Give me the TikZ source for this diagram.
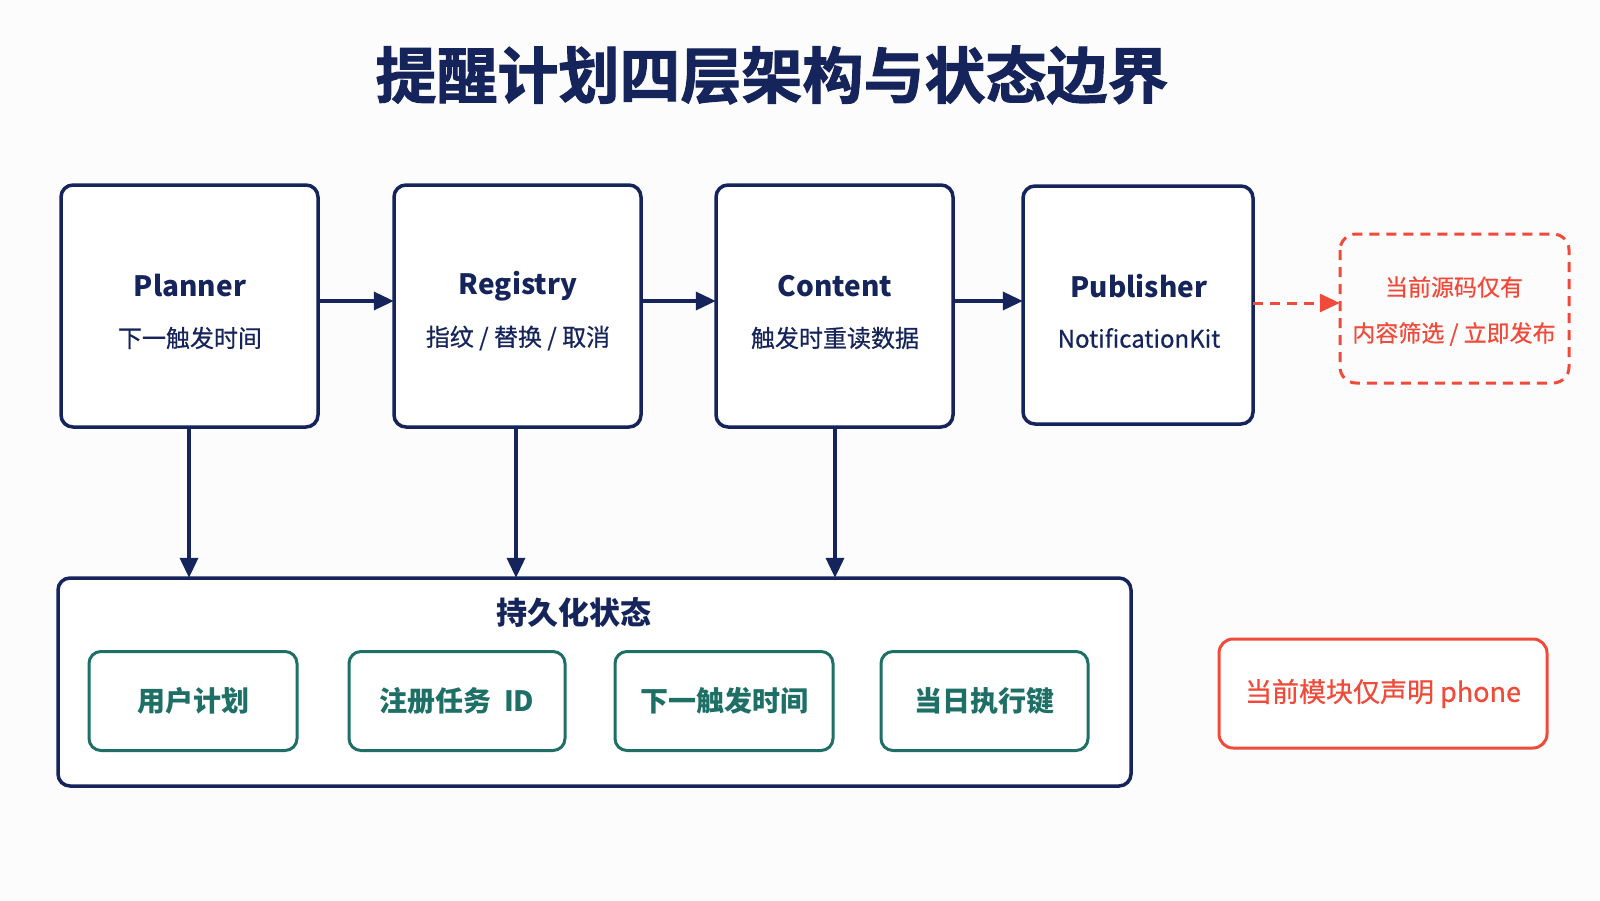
\documentclass[tikz,border=0pt]{standalone}
\usepackage{fontspec}
\setmainfont{Noto Sans CJK SC}
\newfontfamily\medfont[FakeBold=0.6]{Noto Sans CJK SC}
\newfontfamily\heavyfont[FakeBold=1.6]{Noto Sans CJK SC Bold}
\usetikzlibrary{arrows.meta}
\definecolor{navy}{HTML}{15245A}
\definecolor{tealc}{HTML}{1E6F66}
\definecolor{redc}{HTML}{F04B3A}
\definecolor{bgc}{HTML}{FCFCFD}
\tikzset{
  layer/.style={draw=navy, line width=3.5pt, rounded corners=12pt, fill=white},
  store/.style={draw=tealc, line width=3pt, rounded corners=12pt, fill=white,
    text=tealc, font=\bfseries\fontsize{28}{32}\selectfont},
  conn/.style={draw=navy, line width=3.5pt, -{Triangle[length=20pt,width=18pt]}},
  dconn/.style={draw=redc, line width=3pt, dash pattern=on 10pt off 7pt, -{Triangle[length=20pt,width=18pt]}},
  ttl/.style={text=navy, font=\bfseries\fontsize{28}{34}\selectfont},
  sub/.style={text=navy, font=\medfont\fontsize{24}{28}\selectfont},
}
\begin{document}
\begin{tikzpicture}[x=1pt,y=-1pt]
\useasboundingbox (0,0) rectangle (1600,900);
\fill[bgc] (0,0) rectangle (1600,900);
\node[text=navy, font=\heavyfont\fontsize{61}{68}\selectfont] (title) at (772,75) {提醒计划四层架构与状态边界};

% layer boxes
\draw[layer] (61,185) rectangle (318,427);
\draw[layer] (394,185) rectangle (641,427);
\draw[layer] (716,185) rectangle (953,427);
\draw[layer] (1023,186) rectangle (1253,424);
\node[minimum width=257pt, minimum height=242pt, inner sep=0] (planner) at (189.5,306) {};
\node[minimum width=247pt, minimum height=242pt, inner sep=0] (registry) at (517.5,306) {};
\node[minimum width=237pt, minimum height=242pt, inner sep=0] (content) at (834.5,306) {};
\node[minimum width=230pt, minimum height=238pt, inner sep=0] (publisher) at (1138,305) {};

\node[ttl] (t1) at (190,286) {Planner};
\node[sub] (s1) at (190,338) {下一触发时间};
\node[ttl] (t2) at (518,286) {Registry};
\node[sub] (s2) at (518,338) {指纹 / 替换 / 取消};
\node[ttl] (t3) at (835,286) {Content};
\node[sub] (s3) at (835,338) {触发时重读数据};
\node[ttl] (t4) at (1139,286) {Publisher};
\node[sub] (s4) at (1139,338) {NotificationKit};

% dashed note
\draw[draw=redc, line width=3pt, dash pattern=on 10pt off 7pt, rounded corners=16pt] (1340,234) rectangle (1569,383);
\node[minimum width=229pt, minimum height=149pt, inner sep=0] (note) at (1454.5,308.5) {};
\node[text=redc, font=\medfont\fontsize{23}{26}\selectfont] (n1) at (1454,287) {当前源码仅有};
\node[text=redc, font=\medfont\fontsize{23}{26}\selectfont] (n2) at (1454,334) {内容筛选 / 立即发布};

% horizontal arrows
\draw[conn] (planner.east |- 0,301) -- (registry.west |- 0,301);
\draw[conn] (registry.east |- 0,301) -- (content.west |- 0,301);
\draw[conn] (content.east |- 0,301) -- (publisher.west |- 0,301);
\draw[dconn] (publisher.east |- 0,303) -- (note.west |- 0,303);

% persistent state container
\draw[layer] (58,578) rectangle (1131,786);
\node[minimum width=1073pt, minimum height=208pt, inner sep=0] (state) at (594.5,682) {};
\node[text=navy, font=\bfseries\fontsize{31}{36}\selectfont] (stt) at (574,613) {持久化状态};

\draw[conn] (planner.south -| 189,0) -- (state.north -| 189,0);
\draw[conn] (registry.south -| 516,0) -- (state.north -| 516,0);
\draw[conn] (content.south -| 835,0) -- (state.north -| 835,0);

\node[store, minimum width=208pt, minimum height=99pt] (b1) at (193,701) {用户计划};
\node[store, minimum width=216pt, minimum height=99pt] (b2) at (457,701) {注册任务\hspace{0.45em}ID};
\node[store, minimum width=218pt, minimum height=99pt] (b3) at (724,701) {下一触发时间};
\node[store, minimum width=207pt, minimum height=99pt] (b4) at (984.5,701) {当日执行键};

% red note
\node[draw=redc, line width=3pt, rounded corners=14pt, fill=white, minimum width=328pt, minimum height=109pt,
  text=redc, font=\medfont\fontsize{27}{32}\selectfont] (phone) at (1383,693.5) {当前模块仅声明 phone};
\end{tikzpicture}
\end{document}
